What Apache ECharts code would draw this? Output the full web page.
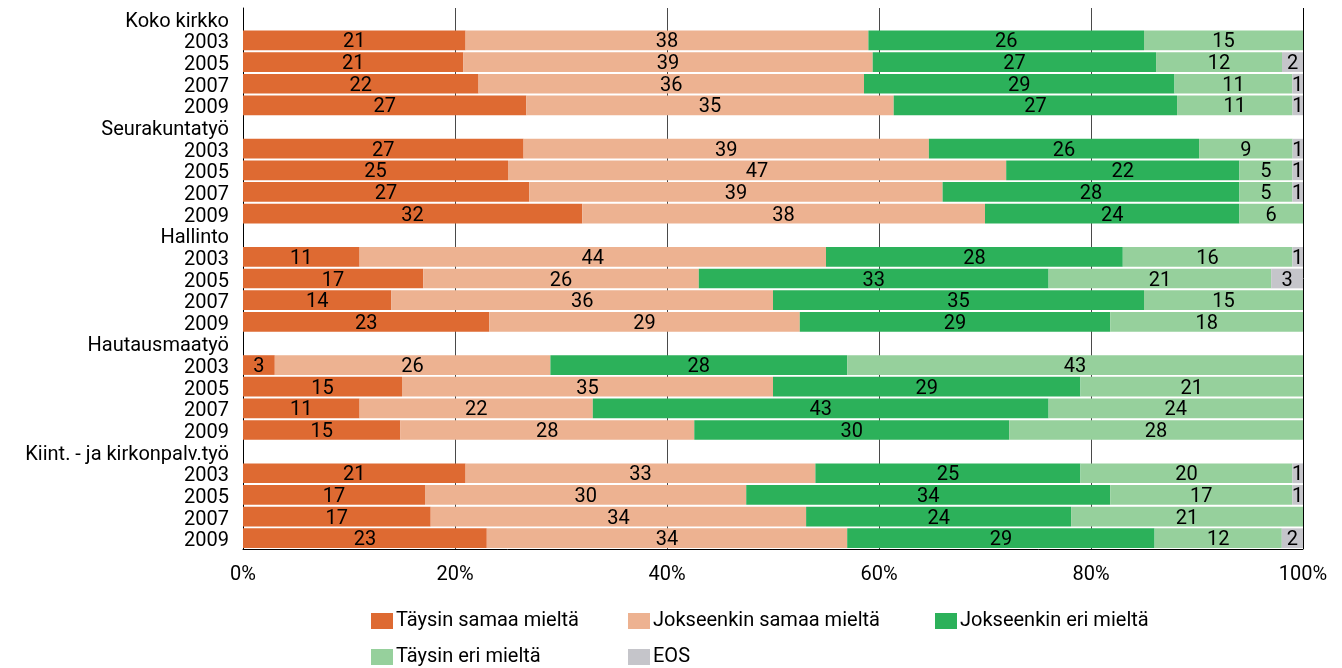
<!DOCTYPE html>
<html>
<head>
<meta charset="utf-8">
<script src="https://cdn.jsdelivr.net/npm/echarts@6/dist/echarts.min.js"></script>
<style>html,body{margin:0;padding:0;background:#fff}#c{width:1342px;height:668px}</style>
</head>
<body>
<div id="c"></div>
<script>
// ---- data ----
const groups = ['Koko kirkko', 'Seurakuntatyö', 'Hallinto', 'Hautausmaatyö', 'Kiint. - ja kirkonpalv.työ'];
const years = ['2003', '2005', '2007', '2009'];
const seriesNames = ['Täysin samaa mieltä', 'Jokseenkin samaa mieltä', 'Jokseenkin eri mieltä', 'Täysin eri mieltä', 'EOS'];
// values per year row, in group order (4 rows per group)
const taysinSamaa     = [21, 21, 22, 27,  27, 25, 27, 32,  11, 17, 14, 23,   3, 15, 11, 15,  21, 17, 17, 23];
const jokseenkinSamaa = [38, 39, 36, 35,  39, 47, 39, 38,  44, 26, 36, 29,  26, 35, 22, 28,  33, 30, 34, 34];
const jokseenkinEri   = [26, 27, 29, 27,  26, 22, 28, 24,  28, 33, 35, 29,  28, 29, 43, 30,  25, 34, 24, 29];
const taysinEri       = [15, 12, 11, 11,   9,  5,  5,  6,  16, 21, 15, 18,  43, 21, 24, 28,  20, 17, 21, 12];
const eos             = [ 0,  2,  1,  1,   1,  1,  1,  0,   1,  3,  0,  0,   0,  0,  0,  0,   1,  1,  0,  2];
const xTicks = [0, 20, 40, 60, 80, 100];
const colors = ['#DE6A32', '#EDB291', '#2CB15A', '#96D09C', '#C5C5CA'];

// ---- build categories & 100%-stacked values ----
const allSeries = [taysinSamaa, jokseenkinSamaa, jokseenkinEri, taysinEri, eos];
const categories = [];
const rowIndex = [];
groups.forEach((g, gi) => {
  categories.push(g); rowIndex.push(-1);
  years.forEach((y, yi) => { categories.push(y); rowIndex.push(gi * 4 + yi); });
});
const totals = taysinSamaa.map((_, i) => allSeries.reduce((s, arr) => s + arr[i], 0));

const FONT = 'Roboto';
const series = seriesNames.map((name, si) => ({
  name,
  type: 'bar',
  stack: 'all',
  barCategoryGap: '9%',
  itemStyle: { color: colors[si] },
  label: {
    show: true,
    position: 'inside',
    offset: [0, 2],
    color: '#000',
    fontFamily: FONT,
    fontSize: 20,
    formatter: p => (p.data && p.data.raw > 0) ? String(p.data.raw) : ''
  },
  emphasis: { disabled: true },
  data: rowIndex.map(ri => {
    if (ri < 0) return { value: null, raw: 0 };
    const raw = allSeries[si][ri];
    return { value: raw * 100 / totals[ri], raw };
  })
}));

const legendPos = [[371, 611], [628, 611], [935, 611], [371, 647], [628, 647]];
const legends = seriesNames.map((n, i) => ({
  data: [n],
  left: legendPos[i][0],
  top: legendPos[i][1],
  padding: 0,
  icon: 'rect',
  itemWidth: 22,
  itemHeight: 16,
  selectedMode: false,
  textStyle: { fontFamily: FONT, fontSize: 20, color: '#000', padding: [0, 0, 0, -2] }
}));

const chart = echarts.init(document.getElementById('c'), null, { renderer: 'canvas' });
chart.setOption({
  animation: false,
  color: colors,
  textStyle: { fontFamily: FONT },
  grid: { left: 243, right: 39, top: 8, bottom: 119, containLabel: false },
  legend: legends,
  xAxis: {
    type: 'value',
    min: xTicks[0],
    max: xTicks[xTicks.length - 1],
    interval: xTicks[1] - xTicks[0],
    axisLine: { show: true, lineStyle: { color: '#000', width: 1 } },
    axisTick: { show: false },
    axisLabel: { formatter: '{value}%', fontFamily: FONT, fontSize: 20, color: '#000', margin: 16 },
    splitLine: { show: true, lineStyle: { color: ['#000', '#4a4a4a', '#4a4a4a', '#4a4a4a', '#4a4a4a', '#000'], width: 1 } }
  },
  yAxis: {
    type: 'category',
    inverse: true,
    data: categories,
    axisLine: { show: true, lineStyle: { color: '#000', width: 1 } },
    axisTick: { show: false },
    axisLabel: {
      interval: 0,
      margin: 14,
      formatter: v => '{t|' + v + '}',
      rich: { t: { fontFamily: FONT, fontSize: 20, color: '#000', padding: [6, 0, 0, 0] } }
    }
  },
  series
});
</script>
</body>
</html>
